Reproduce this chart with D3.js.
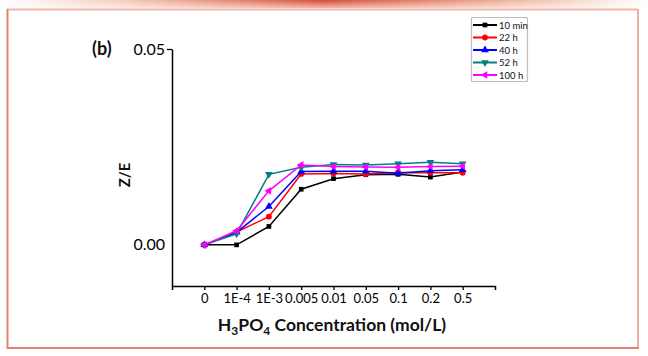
<!DOCTYPE html>
<html>
<head>
<meta charset="utf-8">
<script src="https://cdn.jsdelivr.net/npm/d3@7"></script>
<style>
html,body{margin:0;padding:0;background:#fff;}
svg{display:block;}
</style>
</head>
<body>
<svg id="chart" width="648" height="356"></svg>
<script>
// ---- data ----
const categories = ["0", "1E-4", "1E-3", "0.005", "0.01", "0.05", "0.1", "0.2", "0.5"];
const seriesNames = ["10 min", "22 h", "40 h", "52 h", "100 h"];
const seriesColors = ["#000000", "#ff0000", "#0000ff", "#008080", "#ff00ff"];
const values10min = [0, 0, 0.0047, 0.0142, 0.0169, 0.0179, 0.0180, 0.0173, 0.0186];
const values22h   = [0, 0.0033, 0.0072, 0.0181, 0.0182, 0.0181, 0.0185, 0.0184, 0.0184];
const values40h   = [0, 0.0032, 0.0098, 0.0187, 0.0188, 0.0188, 0.0183, 0.0189, 0.0192];
const values52h   = [0, 0.0028, 0.0180, 0.0198, 0.0205, 0.0204, 0.0207, 0.0211, 0.0207];
const values100h  = [0, 0.0036, 0.0138, 0.0204, 0.0200, 0.0199, 0.0198, 0.0200, 0.0201];
const yTicks = [0.00, 0.05];
const yTickLabels = ["0.00", "0.05"];

const allSeries = [values10min, values22h, values40h, values52h, values100h];

const svg = d3.select("#chart");

// ---- frame & top bar ----
const defs = svg.append("defs");
const grad = defs.append("linearGradient").attr("id", "topbar").attr("x1", "0").attr("x2", "1");
grad.append("stop").attr("offset", "0").attr("stop-color", "#ffffff");
grad.append("stop").attr("offset", "0.2").attr("stop-color", "#f4c8b6");
grad.append("stop").attr("offset", "0.5").attr("stop-color", "#d64a32");
grad.append("stop").attr("offset", "0.8").attr("stop-color", "#f0b8a2");
grad.append("stop").attr("offset", "1").attr("stop-color", "#ffffff");
const vgrad = defs.append("linearGradient").attr("id", "topfade").attr("x1", "0").attr("x2", "0").attr("y1", "0").attr("y2", "1");
vgrad.append("stop").attr("offset", "0").attr("stop-color", "#fff").attr("stop-opacity", 0);
vgrad.append("stop").attr("offset", "1").attr("stop-color", "#fff").attr("stop-opacity", 0.6);
svg.append("rect").attr("x", 0).attr("y", 0).attr("width", 648).attr("height", 8).attr("fill", "url(#topbar)");
svg.append("rect").attr("x", 0).attr("y", 0).attr("width", 648).attr("height", 8).attr("fill", "url(#topfade)");

svg.append("line").attr("x1", 7).attr("x2", 638).attr("y1", 9.5).attr("y2", 9.5).attr("stroke", "#f2b4a6").attr("stroke-width", 2);
svg.append("line").attr("x1", 638).attr("x2", 638).attr("y1", 9).attr("y2", 348).attr("stroke", "#f0aea0").attr("stroke-width", 2);
svg.append("line").attr("x1", 7.5).attr("x2", 7.5).attr("y1", 9).attr("y2", 349).attr("stroke", "#e9806c").attr("stroke-width", 2);
svg.append("line").attr("x1", 7).attr("x2", 639).attr("y1", 348).attr("y2", 348).attr("stroke", "#e9806c").attr("stroke-width", 2);

// ---- scales ----
const x = d3.scalePoint().domain(categories).range([172, 495]).padding(1);
const y = d3.scaleLinear().domain([-0.0105, 0.05]).range([286, 49]);

const font = "Lato, 'Open Sans', sans-serif";

// ---- axes ----
const xAxis = d3.axisBottom(x).tickSize(4).tickSizeOuter(4).tickPadding(4);
const gx = svg.append("g").attr("transform", "translate(0,286)").call(xAxis);
gx.select(".domain").attr("stroke", "#000").attr("stroke-width", 1.5);
gx.selectAll(".tick line").attr("stroke", "#000").attr("stroke-width", 1.3);
gx.selectAll(".tick text").attr("font-family", font).attr("font-size", "13px").attr("fill", "#000");

const yAxis = d3.axisLeft(y).tickValues(yTicks).tickFormat((d, i) => yTickLabels[i]).tickSizeOuter(0).tickPadding(7)
  .tickSizeInner(5);
const gy = svg.append("g").attr("transform", "translate(172,0)").call(yAxis);
gy.select(".domain").attr("stroke", "#000").attr("stroke-width", 1.5);
gy.selectAll(".tick line").attr("stroke", "#000").attr("stroke-width", 1.3)
  .attr("x2", d => d === 0 ? 0 : -5);
gy.selectAll(".tick text").attr("font-family", font).attr("font-size", "16px").attr("fill", "#000")
  .attr("x", -7);

// ---- axis titles ----
const xt = svg.append("text").attr("x", 332).attr("y", 331).attr("text-anchor", "middle")
  .attr("font-family", font).attr("font-weight", "bold").attr("font-size", "17.5px").attr("fill", "#111");
xt.append("tspan").text("H");
xt.append("tspan").attr("font-size", "12px").attr("dy", 4).text("3");
xt.append("tspan").attr("dy", -4).text("PO");
xt.append("tspan").attr("font-size", "12px").attr("dy", 4).text("4");
xt.append("tspan").attr("dy", -4).text(" Concentration (mol/L)");

svg.append("text").attr("transform", "translate(130,175) rotate(-90)").attr("text-anchor", "middle")
  .attr("font-family", font).attr("font-weight", "bold").attr("font-size", "15px").attr("fill", "#111").text("Z/E");

svg.append("text").attr("x", 92).attr("y", 55).attr("font-family", font).attr("font-weight", "bold")
  .attr("font-size", "18px").attr("fill", "#111").text("(b)");

// ---- series ----
const symbols = [
  {type: d3.symbolSquare, rot: 0, size: 22},
  {type: d3.symbolCircle, rot: 0, size: 26},
  {type: d3.symbolTriangle, rot: 0, size: 26},
  {type: d3.symbolTriangle, rot: 180, size: 26},
  {type: d3.symbolTriangle, rot: -90, size: 26}
];

const line = d3.line().x((d, i) => x(categories[i])).y(d => y(d));

allSeries.forEach((vals, s) => {
  const g = svg.append("g");
  g.append("path").datum(vals).attr("d", line).attr("fill", "none")
    .attr("stroke", seriesColors[s]).attr("stroke-width", 1.5);
  const sym = d3.symbol().type(symbols[s].type).size(symbols[s].size);
  g.selectAll("path.m").data(vals).join("path").attr("class", "m")
    .attr("d", sym)
    .attr("transform", (d, i) => `translate(${x(categories[i])},${y(d)}) rotate(${symbols[s].rot})`)
    .attr("fill", seriesColors[s]);
});

// ---- legend ----
const lg = svg.append("g");
lg.append("rect").attr("x", 471.5).attr("y", 17.5).attr("width", 56).attr("height", 64)
  .attr("fill", "#fff").attr("stroke", "#bdbdbd").attr("stroke-width", 1.2).attr("rx", 1);
seriesNames.forEach((name, s) => {
  const cy = 25 + s * 12.5;
  lg.append("line").attr("x1", 473).attr("x2", 497).attr("y1", cy).attr("y2", cy)
    .attr("stroke", seriesColors[s]).attr("stroke-width", 2);
  const sym = d3.symbol().type(symbols[s].type).size(symbols[s].size);
  lg.append("path").attr("d", sym).attr("transform", `translate(485,${cy}) rotate(${symbols[s].rot})`)
    .attr("fill", seriesColors[s]);
  lg.append("text").attr("x", 499).attr("y", cy + 3.5).attr("font-family", font)
    .attr("font-size", "9.5px").attr("fill", "#111").text(name);
});
</script>
</body>
</html>
